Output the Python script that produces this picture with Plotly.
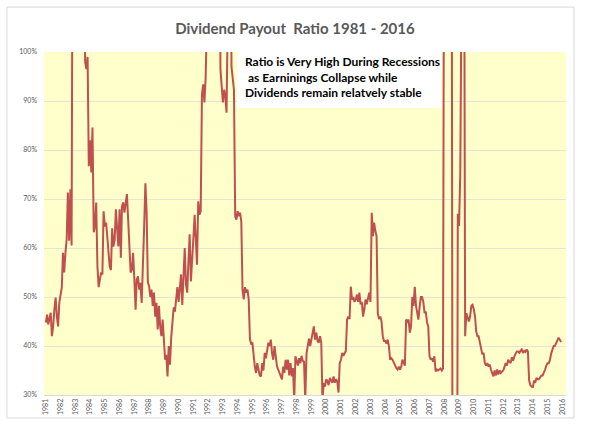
import pandas as pd
import plotly.graph_objects as go

# monthly dividend payout ratio (%); 150 = off the top, -50 = negative earnings
payout_1980s = [
    44.8, 46.4, 44.4, 45.5, 46.8, 42.0, 44.0, 47.5, 49.9, 46.0, 44.0, 48.8,  # 1981
    50.5, 52.0, 59.0, 55.0, 59.0, 61.7, 71.3, 61.5, 72.0, 60.5, 150, 150,    # 1982
    150, 150, 150, 150, 150, 150, 150, 150, 98.0, 96.5, 99.0, 76.7,          # 1983
    82.0, 75.4, 84.6, 63.2, 64.4, 69.3, 56.2, 52.0, 53.6, 55.0, 54.6, 67.5,  # 1984
    64.4, 65.2, 62.4, 59.0, 56.2, 55.5, 64.0, 60.3, 61.7, 67.9, 64.4, 60.3,  # 1985
    67.9, 58.0, 68.5, 69.3, 67.2, 69.3, 71.0, 65.8, 59.0, 55.0, 55.6, 59.0,  # 1986
    53.6, 47.4, 53.6, 54.2, 51.5, 52.9, 48.8, 55.0, 64.4, 73.2, 67.2, 53.0,  # 1987
    52.2, 50.0, 51.5, 48.2, 50.9, 46.0, 48.8, 43.4, 48.2, 44.0, 42.0, 45.4,  # 1988
    40.0, 37.2, 38.2, 33.8, 40.0, 36.2, 41.7, 45.8, 47.9, 47.0, 49.0, 52.0,  # 1989
]
payout_1990s = [
    49.0, 52.6, 54.6, 48.4, 54.0, 60.0, 52.6, 50.9, 57.3, 62.8, 53.2, 56.6,  # 1990
    62.0, 66.8, 60.7, 56.6, 69.5, 66.8, 67.5, 91.3, 93.4, 89.7, 94.8, 150,   # 1991
    150, 150, 150, 150, 150, 150, 150, 150, 150, 150, 96.4, 93.7,            # 1992
    89.7, 92.3, 91.0, 87.6, 150, 150, 150, 97.0, 94.0, 92.3, 66.4, 65.8,     # 1993
    67.5, 66.5, 67.2, 65.4, 51.5, 49.5, 52.0, 50.9, 51.5, 49.5, 41.3, 40.5,  # 1994
    40.7, 37.2, 35.8, 34.5, 36.5, 35.2, 34.0, 33.8, 36.5, 35.0, 38.6, 37.5,  # 1995
    39.3, 40.7, 40.0, 41.3, 38.5, 37.2, 40.0, 38.0, 35.8, 35.2, 34.5, 33.8,  # 1996
    33.2, 35.8, 34.5, 37.2, 35.2, 37.2, 34.0, 36.5, 33.8, 35.5, 29.0, 37.9,  # 1997
    37.0, 36.0, 37.5, 36.5, 38.0, 37.0, 36.8, 29.0, 38.5, 40.0, 41.5, 40.0,  # 1998
    41.3, 42.7, 44.0, 41.3, 42.7, 41.0, 40.7, 42.0, 40.7, 29.0, 32.5, 31.7,  # 1999
]
payout_2000s = [
    33.2, 32.8, 32.0, 33.5, 33.0, 32.5, 33.8, 32.5, 33.2, 32.8, 30.5, 36.5,  # 2000
    37.2, 38.6, 38.0, 38.6, 39.0, 45.4, 46.0, 45.5, 52.1, 49.5, 50.0, 49.0,  # 2001
    49.5, 50.5, 49.0, 50.9, 48.5, 49.0, 46.0, 47.5, 49.5, 48.5, 49.5, 50.9,  # 2002
    49.0, 67.2, 62.4, 65.2, 63.5, 62.4, 46.7, 45.5, 46.0, 45.0, 42.0, 41.0,  # 2003
    41.0, 40.5, 41.3, 40.0, 37.2, 37.5, 37.2, 36.5, 35.8, 35.5, 35.2, 35.8,  # 2004
    35.2, 35.8, 37.2, 36.5, 36.0, 45.4, 45.0, 45.4, 42.7, 44.0, 50.0, 48.2,  # 2005
    52.1, 48.2, 47.0, 45.4, 48.0, 50.0, 50.0, 49.0, 46.7, 47.0, 44.8, 44.0,  # 2006
    37.9, 37.2, 37.5, 36.8, 37.9, 34.8, 35.2, 35.0, 35.2, 35.4, 35.0, 35.4,  # 2007
    150, 150, 150, 150, 150, 150, 150, -50, -50, -50, -50, 67.0,             # 2008
    64.5, 75.5, 150, 150, 150, 42.0, 46.7, 45.5, 45.0, 46.0, 48.2, 48.4,     # 2009
]
payout_2010s = [
    47.5, 46.0, 43.0, 42.0, 42.0, 40.7, 39.0, 38.3, 38.6, 36.5, 36.0, 36.5,  # 2010
    35.8, 36.2, 35.2, 34.5, 33.8, 35.0, 34.0, 35.2, 34.2, 35.0, 34.5, 34.8,  # 2011
    35.0, 35.8, 36.5, 36.0, 37.2, 36.8, 36.5, 37.7, 37.0, 37.9, 38.5, 38.9,  # 2012
    38.9, 38.6, 39.0, 39.3, 38.6, 39.0, 38.8, 39.3, 38.9, 33.0, 32.0, 31.7,  # 2013
    31.5, 33.0, 32.5, 33.5, 33.2, 33.2, 33.5, 34.0, 34.0, 34.5, 35.2, 36.0,  # 2014
    36.5, 36.5, 37.2, 38.5, 39.5, 40.0, 40.0, 40.5, 41.3, 41.7, 41.3, 40.8,  # 2015
]
payout = payout_1980s + payout_1990s + payout_2000s + payout_2010s
months = pd.date_range("1981-01-01", periods=len(payout), freq="MS")

tick_years = list(range(1981, 2017))
note_lines = ["Ratio is Very High During Recessions",
              "\u00a0as Earninings Collapse while",
              "Dividends remain relatvely stable"]

fig = go.Figure(go.Scatter(x=months, y=payout, mode="lines",
                           line=dict(color="#C0504D", width=2)))

grey = "#595959"
fig.update_layout(
    width=590, height=429,
    margin=dict(l=44, r=24, t=52, b=34),
    paper_bgcolor="white",
    plot_bgcolor="#FFFFCC",
    showlegend=False,
    font=dict(family="Lato", color=grey, size=7),
    title=dict(text="<b>Dividend Payout\u00a0 Ratio 1981 - 2016</b>",
               x=0.5, xref="container", y=0.932, yanchor="middle",
               font=dict(family="Lato", size=15, color=grey)),
)
fig.update_xaxes(
    type="date",
    range=["1980-11-17", "2016-04-01"],
    tickvals=[pd.Timestamp(f"{y}-01-01") for y in tick_years],
    ticktext=[str(y) for y in tick_years],
    tickangle=-90, showgrid=False, ticks="",
    showline=True, linecolor="#d9d9d9", linewidth=1,
    tickfont=dict(size=7, color=grey),
)
fig.update_yaxes(
    range=[30, 100], dtick=10, ticksuffix="%",
    showgrid=True, gridcolor="#e4e4d8", gridwidth=1,
    zeroline=False, ticks="", ticklabelstandoff=6,
    tickfont=dict(size=7, color=grey),
)

# outer chart border
fig.add_shape(type="rect", xref="paper", yref="paper",
              x0=-0.0709, x1=1.0153, y0=-0.067, y1=1.131,
              line=dict(color="#d9d9d9", width=1), layer="below")
# white note box
fig.add_shape(type="rect", xref="paper", yref="paper",
              x0=0.3697, x1=0.7615, y0=0.8367, y1=1.0,
              fillcolor="white", line=dict(width=0), layer="above")
fig.add_annotation(xref="paper", yref="paper", x=0.3812, y=0.927,
                   xanchor="left", yanchor="middle", align="left",
                   showarrow=False, text="<br>".join(note_lines),
                   font=dict(family="Lato", size=12, color="black", weight="bold"))

fig.write_html("out.html", config={"displayModeBar": False},
               post_script="document.body.style.margin='0px';")
